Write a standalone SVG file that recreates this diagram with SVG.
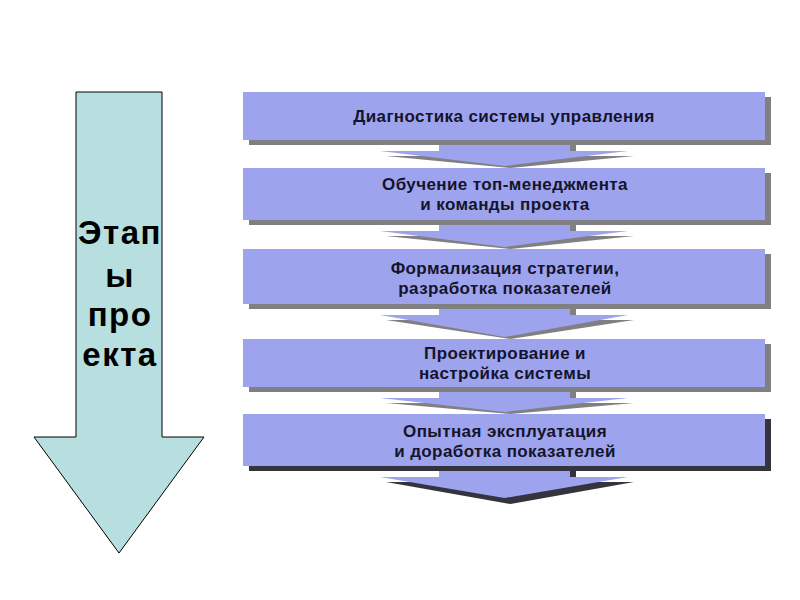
<svg xmlns="http://www.w3.org/2000/svg" width="800" height="600" viewBox="0 0 800 600">
<style>
.box{fill:#9ea3ee}
.sh{fill:#808082}
.shd{fill:#34343f}
.t{font-family:"Liberation Sans",Arial,sans-serif;font-weight:bold;font-size:17px;letter-spacing:0.4px;fill:#14142a;text-anchor:middle}
.big{font-family:"Liberation Sans",Arial,sans-serif;font-weight:bold;font-size:33px;letter-spacing:1.5px;fill:#000;text-anchor:middle}
</style>
<rect width="800" height="600" fill="#fff"/>
<g id="stages-arrow">
<path d="M76,92 H162 V437 H204 L119,553 L34,437 H76 Z" fill="#b7dfe0" stroke="#000" stroke-width="1"/>
<text class="big" x="120" y="244">Этап</text>
<text class="big" x="120" y="287">ы</text>
<text class="big" x="120" y="326">про</text>
<text class="big" x="120" y="366">екта</text>
</g>
<g id="connectors">
<path class="sh" d="M445,145 H576 V156 H634 L510.5,168 L386,156 H445 Z"/>
<path class="box" d="M439,140 H570 V151 H628 L504.5,166 L380,151 H439 Z"/>
<path class="sh" d="M445,225 H576 V236 H634 L510.5,249 L386,236 H445 Z"/>
<path class="box" d="M439,220 H570 V231 H628 L504.5,247 L380,231 H439 Z"/>
<path class="sh" d="M445,309 H576 V320 H634 L510.5,339 L386,320 H445 Z"/>
<path class="box" d="M439,304 H570 V315 H628 L504.5,337 L380,315 H439 Z"/>
<path class="sh" d="M445,392 H576 V403 H634 L510.5,414 L386,403 H445 Z"/>
<path class="box" d="M439,387 H570 V398 H628 L504.5,412 L380,398 H439 Z"/>
<path class="shd" d="M445,471 H576 V482 H634 L510.5,504 L386,482 H445 Z"/>
<path class="box" d="M439,466 H570 V477 H628 L504.5,498 L380,477 H439 Z"/>
</g>
<g id="node1">
<rect class="sh" x="249" y="97" width="522" height="48"/>
<rect class="box" x="243" y="92" width="522" height="48"/>
<text class="t" x="504" y="122">Диагностика системы управления</text>
</g>
<g id="node2">
<rect class="sh" x="249" y="173" width="522" height="52"/>
<rect class="box" x="243" y="168" width="522" height="52"/>
<text class="t" x="505" y="190">Обучение топ-менеджмента</text>
<text class="t" x="505" y="210">и команды проекта</text>
</g>
<g id="node3">
<rect class="sh" x="249" y="254" width="522" height="55"/>
<rect class="box" x="243" y="249" width="522" height="55"/>
<text class="t" x="505" y="274">Формализация стратегии,</text>
<text class="t" x="505" y="294">разработка показателей</text>
</g>
<g id="node4">
<rect class="sh" x="249" y="344" width="522" height="48"/>
<rect class="box" x="243" y="339" width="522" height="48"/>
<text class="t" x="505" y="359">Проектирование и</text>
<text class="t" x="505" y="379">настройка системы</text>
</g>
<g id="node5">
<rect class="shd" x="249" y="419" width="522" height="52"/>
<rect class="box" x="243" y="414" width="522" height="52"/>
<text class="t" x="505" y="437">Опытная эксплуатация</text>
<text class="t" x="505" y="457">и доработка показателей</text>
</g>
</svg>
